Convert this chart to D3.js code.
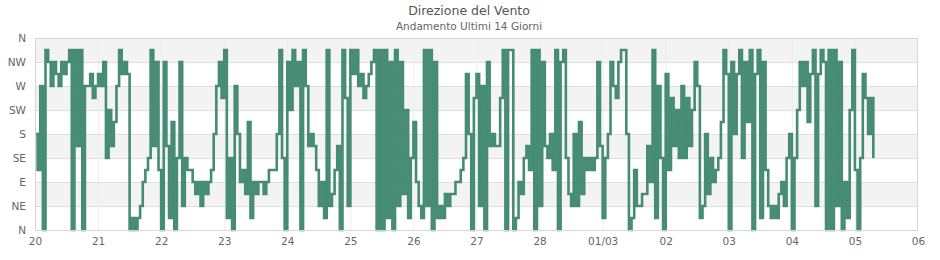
<!DOCTYPE html>
<html>
<head>
<meta charset="utf-8">
<script src="https://cdn.jsdelivr.net/npm/d3@7"></script>
<style>
  body { margin: 0; background: #fff; }
  svg { display: block; }
</style>
</head>
<body>
<script>
// direzione in settori (0 = N, 2 = NE, 4 = E ... 15 = NNO), un valore ogni ora
var feb20 = [8, 5, 12, 0, 15, 14, 12, 14, 13, 12, 14, 13, 14, 15, 0, 15, 7, 15, 0, 12, 12, 13, 11, 12]
var feb21 = [13, 12, 14, 6, 10, 7, 9, 12, 15, 13, 14, 13, 0, 1, 0, 1, 2, 4, 5, 6, 15, 7, 14, 5]
var feb22 = [0, 14, 7, 1, 9, 0, 6, 14, 2, 6, 5, 5, 4, 3, 4, 2, 4, 3, 4, 5, 8, 12, 14, 11]
var feb23 = [15, 1, 6, 0, 12, 8, 4, 5, 3, 9, 1, 4, 3, 4, 4, 3, 4, 5, 5, 5, 8, 15, 6, 0]
var feb24 = [14, 10, 15, 12, 14, 0, 15, 12, 7, 8, 7, 5, 2, 4, 1, 15, 2, 3, 5, 7, 0, 15, 11, 2]
var feb25 = [15, 13, 15, 12, 13, 11, 12, 13, 14, 15, 0, 15, 0, 15, 1, 14, 0, 15, 2, 14, 3, 10, 1, 6]
var feb26 = [9, 4, 2, 1, 15, 2, 15, 0, 14, 1, 2, 1, 3, 2, 3, 3, 4, 4, 5, 6, 13, 8, 0, 11]
var feb27 = [13, 2, 12, 0, 14, 7, 8, 7, 7, 11, 15, 0, 15, 15, 0, 1, 4, 3, 6, 7, 5, 15, 0, 15]
var feb28 = [2, 14, 7, 6, 8, 5, 15, 0, 14, 15, 6, 3, 2, 8, 2, 9, 3, 6, 5, 6, 5, 6, 14, 7]
var mar01 = [1, 6, 8, 14, 12, 11, 14, 15, 15, 8, 0, 1, 5, 2, 2, 3, 3, 7, 4, 15, 1, 12, 6, 0]
var mar02 = [13, 5, 11, 7, 10, 6, 12, 6, 11, 7, 10, 14, 12, 1, 2, 8, 3, 6, 4, 5, 6, 9, 15, 13]
var mar03 = [0, 14, 8, 13, 15, 6, 14, 9, 15, 0, 13, 15, 1, 14, 5, 2, 1, 2, 1, 3, 4, 2, 6, 8]
var mar04 = [0, 6, 10, 14, 12, 14, 9, 13, 15, 2, 13, 15, 14, 0, 15, 0, 15, 2, 14, 0, 4, 1, 10, 15]
var mar05 = [5, 0, 6, 13, 11, 8, 11, 6]

var dayValues = [feb20, feb21, feb22, feb23, feb24, feb25, feb26, feb27, feb28, mar01, mar02, mar03, mar04, mar05]
var xTickLabels = ['20', '21', '22', '23', '24', '25', '26', '27', '28', '01/03', '02', '03', '04', '05', '06']
var yTickLabels = ['N', 'NE', 'E', 'SE', 'S', 'SW', 'W', 'NW', 'N']

var width = 940, height = 260
var margin = { top: 38, right: 22, bottom: 30, left: 35 }

var svg = d3.select('body').append('svg')
    .attr('width', width)
    .attr('height', height)

var start = new Date(2015, 1, 20)
var end = new Date(2015, 2, 6)

var x = d3.scaleTime()
    .domain([start, end])
    .range([margin.left, width - margin.right])

var y = d3.scaleLinear()
    .domain([0, 16])
    .range([height - margin.bottom, margin.top])

// punti orari
var points = []
dayValues.forEach(function (arr, d) {
    arr.forEach(function (v, h) {
        points.push({ t: d3.timeHour.offset(start, d * 24 + h), v: v })
    })
})

// bande alternate
var bands = [[2, 4], [6, 8], [10, 12], [14, 16]]
svg.selectAll('rect.band').data(bands).enter().append('rect')
    .attr('class', 'band')
    .attr('x', margin.left)
    .attr('width', width - margin.right - margin.left)
    .attr('y', function (d) { return y(d[1]) })
    .attr('height', function (d) { return y(d[0]) - y(d[1]) })
    .attr('fill', '#f3f3f3')

// griglia verticale (giorni)
svg.append('g')
    .selectAll('line')
    .data(d3.timeDay.range(d3.timeDay.offset(start, 1), end))
    .enter().append('line')
    .attr('x1', function (d) { return x(d) + 0.5 })
    .attr('x2', function (d) { return x(d) + 0.5 })
    .attr('y1', margin.top)
    .attr('y2', height - margin.bottom)
    .attr('stroke', '#ececfa')

// griglia orizzontale
svg.append('g')
    .selectAll('line')
    .data(d3.range(0, 17, 2))
    .enter().append('line')
    .attr('x1', margin.left)
    .attr('x2', width - margin.right)
    .attr('y1', function (d) { return Math.round(y(d)) + 0.5 })
    .attr('y2', function (d) { return Math.round(y(d)) + 0.5 })
    .attr('stroke', '#e0e0e0')

// linea
var line = d3.line()
    .x(function (d) { return x(d.t) })
    .y(function (d) { return y(d.v) })
    .curve(d3.curveStepAfter)

svg.append('path')
    .datum(points)
    .attr('d', line)
    .attr('fill', 'none')
    .attr('stroke', '#468b73')
    .attr('stroke-width', 2.6)

// bordo
svg.append('rect')
    .attr('x', margin.left + 0.5)
    .attr('y', margin.top + 0.5)
    .attr('width', width - margin.right - margin.left - 1)
    .attr('height', height - margin.bottom - margin.top)
    .attr('fill', 'none')
    .attr('stroke', '#d6d6d6')

// assi
var yAxis = d3.axisLeft(y)
    .tickValues(d3.range(0, 17, 2))
    .tickSize(0)
    .tickPadding(9)
    .tickFormat(function (d, i) { return yTickLabels[i] })

var xAxis = d3.axisBottom(x)
    .ticks(d3.timeDay.every(1))
    .tickSize(0)
    .tickPadding(8)
    .tickFormat(function (d, i) { return xTickLabels[i] })

var gy = svg.append('g')
    .attr('transform', 'translate(' + margin.left + ',0)')
    .call(yAxis)
var gx = svg.append('g')
    .attr('transform', 'translate(0,' + (height - margin.bottom) + ')')
    .call(xAxis)

;[gx, gy].forEach(function (g) {
    g.select('.domain').remove()
    g.selectAll('text')
        .attr('fill', '#666')
        .style('font-family', 'DejaVu Sans')
        .style('font-size', '10.5px')
})

// titoli
svg.append('text')
    .attr('x', 469)
    .attr('y', 15)
    .attr('text-anchor', 'middle')
    .attr('fill', '#555')
    .style('font-family', 'DejaVu Sans')
    .style('font-size', '12.5px')
    .text('Direzione del Vento')

svg.append('text')
    .attr('x', 469)
    .attr('y', 30)
    .attr('text-anchor', 'middle')
    .attr('fill', '#666')
    .style('font-family', 'DejaVu Sans')
    .style('font-size', '10.5px')
    .text('Andamento Ultimi 14 Giorni')
</script>
</body>
</html>
